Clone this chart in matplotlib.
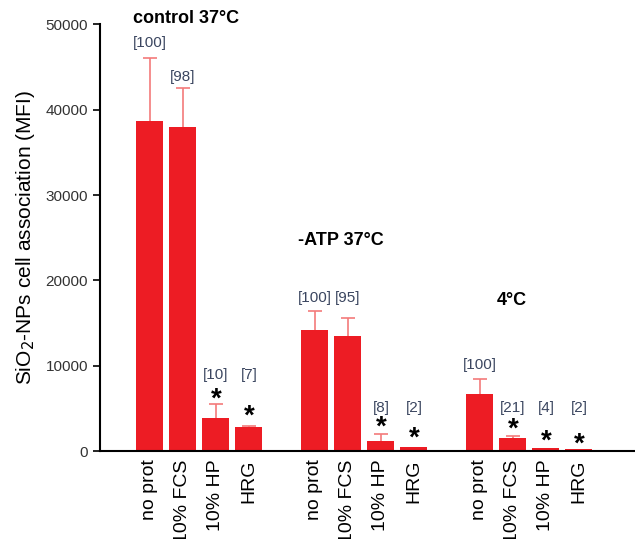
import numpy as np
import matplotlib.pyplot as plt

plt.rcParams['font.family'] = ['Liberation Sans', 'DejaVu Sans']

# --- DATA ---
conditions = ['control 37°C', '-ATP 37°C', '4°C']
treatments = ['no prot', '10% FCS', '10% HP', 'HRG']

mfi = [38640, 38020, 3900, 2850,
       14170, 13430, 1170, 430,
       6640, 1490, 390, 230]
mfi_err = [7410, 4570, 1600, 150,
           2190, 2180, 820, 0,
           1790, 270, 0, 0]
percent = ['[100]', '[98]', '[10]', '[7]',
           '[100]', '[95]', '[8]', '[2]',
           '[100]', '[21]', '[4]', '[2]']
significant = [False, False, True, True,
               False, False, True, True,
               False, True, True, True]

# --- LAYOUT ---
pos = np.array([0, 1, 2, 3, 5, 6, 7, 8, 10, 11, 12, 13])
label_y = [47780, 43790, 8900, 8900,
           17920, 17920, 5040, 5040,
           10070, 5040, 5040, 5040]
star_y = [0, 0, 5200, 3200, 0, 0, 1900, 700, 0, 1650, 250, -100]
title_xy = [(-0.5, 50700), (4.5, 24700), (10.5, 17700)]

bar_red = '#ed1c24'
err_red = '#f47a7a'
label_col = '#3b4660'

fig = plt.figure(figsize=(6.35, 5.39), dpi=100)
ax = fig.add_axes([0.157, 0.163, 0.843, 0.792])

ax.bar(pos, mfi, width=0.82, color=bar_red, zorder=2)

# upper error bars only, drawn by hand so no cap sits on the bar top
mfi = np.array(mfi)
err_top = mfi + np.array(mfi_err)
has_err = np.array(mfi_err) > 0
ax.vlines(pos[has_err], mfi[has_err], err_top[has_err], color=err_red, lw=1.2, zorder=1)
ax.hlines(err_top[has_err], pos[has_err] - 0.22, pos[has_err] + 0.22,
          color=err_red, lw=1.2, zorder=1)

for x, y, t in zip(pos, label_y, percent):
    ax.text(x, y, t, ha='center', va='center', fontsize=11, color=label_col)

for x, y, s in zip(pos, star_y, significant):
    if s:
        ax.text(x, y, '*', ha='center', va='baseline', fontsize=20,
                fontweight='bold', color='black')

for (x, y), name in zip(title_xy, conditions):
    ax.text(x, y, name, ha='left', va='center', fontsize=13,
            fontweight='bold', clip_on=False)

ax.set_xlim(-1.52, 14.7)
ax.set_ylim(0, 50000)
ax.set_yticks(np.arange(0, 50001, 10000))
ax.tick_params(axis='y', labelsize=11, labelcolor='#333333', length=5, width=1.2)
ax.set_xticks(pos)
ax.set_xticklabels(treatments * 3, rotation=90, fontsize=14)
ax.tick_params(axis='x', length=0, pad=6)

ax.set_ylabel('SiO$_2$-NPs cell association (MFI)', fontsize=15, labelpad=6)

ax.spines['top'].set_visible(False)
ax.spines['right'].set_visible(False)
ax.spines['left'].set_linewidth(1.5)
ax.spines['bottom'].set_linewidth(1.5)

fig.savefig('out.png', dpi=100)
